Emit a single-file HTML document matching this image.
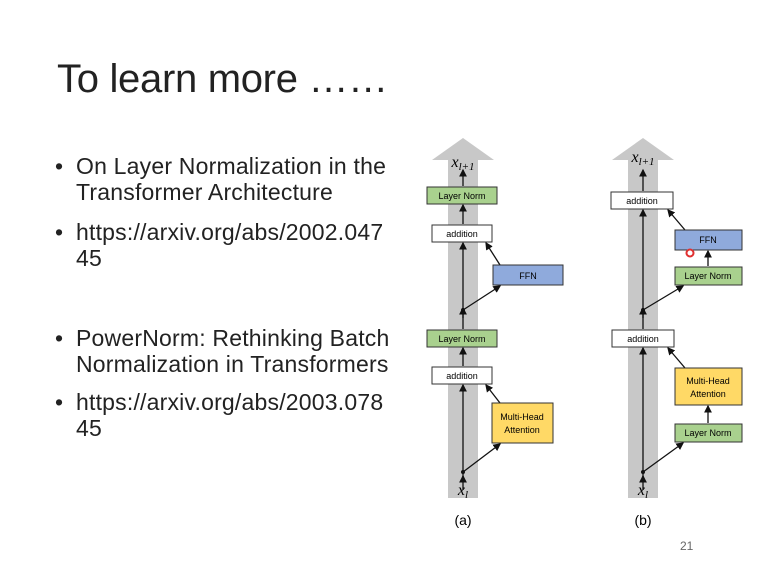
<!DOCTYPE html>
<html><head><style>
body{margin:0;width:764px;height:570px;background:#fff;font-family:"Liberation Sans",sans-serif;overflow:hidden;position:relative}
.t{position:absolute;left:57px;top:57px;font-size:40px;color:#222;letter-spacing:-0.3px}
.b{position:absolute;left:55px;font-size:23px;color:#222;line-height:26px;white-space:nowrap;letter-spacing:0.2px}
.b span{position:absolute;left:0}
.b div{margin-left:21px}
</style></head><body>
<div class="t">To learn more ……</div>
<div class="b" style="top:153px"><span>•</span><div>On Layer Normalization in the<br>Transformer Architecture</div></div>
<div class="b" style="top:219px"><span>•</span><div>https://arxiv.org/abs/2002.047<br>45</div></div>
<div class="b" style="top:325px"><span>•</span><div>PowerNorm: Rethinking Batch<br>Normalization in Transformers</div></div>
<div class="b" style="top:389px"><span>•</span><div>https://arxiv.org/abs/2003.078<br>45</div></div>
<div style="position:absolute;left:680px;top:539px;font-size:12px;color:#666">21</div>
<svg width="764" height="570" style="position:absolute;left:0;top:0" font-family="Liberation Sans, sans-serif">
<defs><marker id="a" markerWidth="6" markerHeight="6" refX="5" refY="3" orient="auto"><path d="M0,0L6,3L0,6z" fill="#111"/></marker></defs>
<g font-size="9" text-anchor="middle">
<!-- (a) -->
<rect x="448" y="158" width="30" height="340" fill="#c8c8c8"/>
<path d="M432,160L463,138L494,160z" fill="#c8c8c8"/>
<g stroke="#111" stroke-width="1.3" fill="none" marker-end="url(#a)">
<line x1="463" y1="477" x2="463" y2="385"/>
<line x1="463" y1="366" x2="463" y2="348"/>
<line x1="463" y1="329" x2="463" y2="243"/>
<line x1="463" y1="224" x2="463" y2="205"/>
<line x1="463" y1="186" x2="463" y2="170"/>
<line x1="463" y1="472" x2="500" y2="444"/>
<line x1="500" y1="403" x2="486" y2="385"/>
<line x1="463" y1="310" x2="500" y2="286"/>
<line x1="500" y1="265" x2="486" y2="243"/>
<line x1="463" y1="490" x2="463" y2="476"/>
<line x1="463" y1="318" x2="463" y2="308"/>
</g>
<circle cx="463" cy="472" r="2" fill="#111"/><circle cx="463" cy="310" r="2" fill="#111"/>
<rect x="427" y="187" width="70" height="17" fill="#a9d18e" stroke="#333"/><text x="462" y="199">Layer Norm</text>
<rect x="432" y="225" width="60" height="17" fill="#fff" stroke="#333"/><text x="462" y="237">addition</text>
<rect x="493" y="265" width="70" height="20" fill="#8faadc" stroke="#333"/><text x="528" y="279">FFN</text>
<rect x="427" y="330" width="70" height="17" fill="#a9d18e" stroke="#333"/><text x="462" y="342">Layer Norm</text>
<rect x="432" y="367" width="60" height="17" fill="#fff" stroke="#333"/><text x="462" y="379">addition</text>
<rect x="492" y="403" width="61" height="40" fill="#ffd966" stroke="#333"/><text x="522" y="420">Multi-Head</text><text x="522" y="433">Attention</text>
<text x="463" y="167" font-size="16" font-family="Liberation Serif" font-style="italic">x<tspan font-size="11" dy="3">l+1</tspan></text>
<text x="463" y="495" font-size="16" font-family="Liberation Serif" font-style="italic">x<tspan font-size="11" dy="3">l</tspan></text>
<text x="463" y="525" font-size="14">(a)</text>
<!-- (b) -->
<rect x="628" y="158" width="30" height="340" fill="#c8c8c8"/>
<path d="M612,160L643,138L674,160z" fill="#c8c8c8"/>
<g stroke="#111" stroke-width="1.3" fill="none" marker-end="url(#a)">
<line x1="643" y1="477" x2="643" y2="348"/>
<line x1="643" y1="329" x2="643" y2="210"/>
<line x1="643" y1="191" x2="643" y2="170"/>
<line x1="643" y1="472" x2="683" y2="443"/>
<line x1="708" y1="423" x2="708" y2="406"/>
<line x1="685" y1="368" x2="668" y2="348"/>
<line x1="643" y1="310" x2="683" y2="286"/>
<line x1="708" y1="266" x2="708" y2="251"/>
<line x1="685" y1="230" x2="668" y2="210"/>
<line x1="643" y1="490" x2="643" y2="476"/>
<line x1="643" y1="318" x2="643" y2="308"/>
</g>
<circle cx="643" cy="472" r="2" fill="#111"/><circle cx="643" cy="310" r="2" fill="#111"/>
<rect x="611" y="192" width="62" height="17" fill="#fff" stroke="#333"/><text x="642" y="204">addition</text>
<rect x="675" y="230" width="67" height="20" fill="#8faadc" stroke="#333"/><text x="708" y="243">FFN</text>
<circle cx="690" cy="253" r="3.5" fill="none" stroke="#e03030" stroke-width="2"/>
<rect x="675" y="267" width="67" height="18" fill="#a9d18e" stroke="#333"/><text x="708" y="279">Layer Norm</text>
<rect x="612" y="330" width="62" height="17" fill="#fff" stroke="#333"/><text x="643" y="342">addition</text>
<rect x="675" y="368" width="67" height="37" fill="#ffd966" stroke="#333"/><text x="708" y="384">Multi-Head</text><text x="708" y="397">Attention</text>
<rect x="675" y="424" width="67" height="18" fill="#a9d18e" stroke="#333"/><text x="708" y="436">Layer Norm</text>
<text x="643" y="162" font-size="16" font-family="Liberation Serif" font-style="italic">x<tspan font-size="11" dy="3">l+1</tspan></text>
<text x="643" y="495" font-size="16" font-family="Liberation Serif" font-style="italic">x<tspan font-size="11" dy="3">l</tspan></text>
<text x="643" y="525" font-size="14">(b)</text>
</g>
</svg>
</body></html>
